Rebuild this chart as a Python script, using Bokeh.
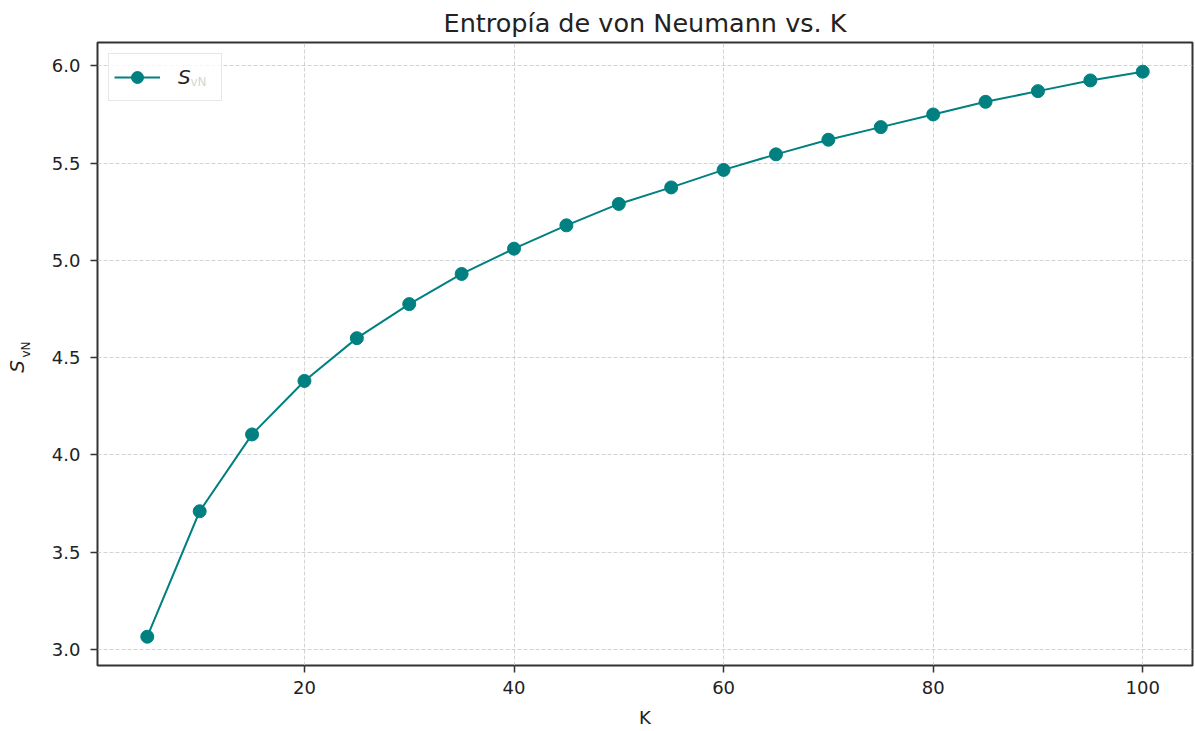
import math
from bokeh.plotting import figure
from bokeh.models import (Range1d, FixedTicker, NumeralTickFormatter, Legend,
                          LegendItem, Label)
from bokeh.embed import file_html
from bokeh.resources import INLINE

K = [5, 10, 15, 20, 25, 30, 35, 40, 45, 50, 55, 60, 65, 70, 75, 80, 85, 90, 95, 100]
S_vN = [3.065, 3.71, 4.105, 4.38, 4.60, 4.775, 4.93, 5.06, 5.18, 5.29,
        5.375, 5.465, 5.545, 5.62, 5.685, 5.75, 5.815, 5.87, 5.925, 5.97]
x_ticks = [20, 40, 60, 80, 100]
y_ticks = [3.0, 3.5, 4.0, 4.5, 5.0, 5.5, 6.0]

FONT = "DejaVu Sans"
TEAL = "#008080"

p = figure(width=1195, height=731, output_backend="svg", toolbar_location=None,
           x_range=Range1d(0.25, 104.75), y_range=Range1d(2.917, 6.12),
           min_border_left=97, min_border_right=3, min_border_top=42,
           min_border_bottom=66)

p.title.text = "Entropía de von Neumann vs. K"
p.title.align = "center"
p.title.text_font = FONT
p.title.text_font_size = "25.5px"
p.title.text_font_style = "normal"
p.title.text_color = "#222222"
p.title.standoff = 9

p.outline_line_color = "#333333"
p.outline_line_width = 2
p.outline_line_alpha = 1

for ax in (p.xaxis[0], p.yaxis[0]):
    ax.axis_line_color = None
    ax.major_tick_line_color = "#333333"
    ax.major_tick_line_width = 1.5
    ax.major_tick_out = 7
    ax.major_tick_in = 0
    ax.minor_tick_line_color = None
    ax.major_label_text_font = FONT
    ax.major_label_text_font_size = "18px"
    ax.major_label_text_color = "#222222"
    ax.axis_label_text_font = FONT
    ax.axis_label_text_font_style = "normal"
    ax.axis_label_text_font_size = "18px"
    ax.axis_label_text_color = "#222222"

p.xaxis.ticker = FixedTicker(ticks=x_ticks)
p.yaxis.ticker = FixedTicker(ticks=y_ticks)
p.yaxis.formatter = NumeralTickFormatter(format="0.0")
p.xaxis.axis_label = "K"
p.xaxis.axis_label_standoff = 10
p.xaxis.major_label_standoff = 8
p.yaxis.major_label_standoff = 10

p.grid.grid_line_color = "#c8c8c8"
p.grid.grid_line_dash = "4 2"
p.grid.grid_line_width = 1
p.grid.grid_line_alpha = 0.8

line = p.line(K, S_vN, line_color=TEAL, line_width=2)
pts = p.scatter(K, S_vN, size=13, fill_color=TEAL, line_color=TEAL)

legend = Legend(items=[LegendItem(label="S", renderers=[line, pts])],
                location="top_left", margin=11, padding=5,
                glyph_width=46, glyph_height=30, label_standoff=18,
                label_width=38, label_height=36,
                label_text_font=FONT, label_text_font_style="italic",
                label_text_font_size="20px", label_text_color="#222222",
                border_line_color="#d0d0d0", border_line_width=1,
                background_fill_alpha=0.8)
p.add_layout(legend, "center")

sub_leg = Label(x=93, y=584, x_units="screen", y_units="screen", text="vN",
                text_font=FONT, text_font_size="12px", text_color="#222222",
                text_align="left", text_baseline="middle", level="overlay")
p.add_layout(sub_leg)

ylab_S = Label(x=-8, y=299, x_units="screen", y_units="screen", text="S",
               angle=math.pi / 2, text_font=FONT, text_font_style="italic",
               text_font_size="20px", text_color="#222222",
               text_align="center", text_baseline="middle")
p.add_layout(ylab_S, "left")
ylab_sub = Label(x=15, y=316, x_units="screen", y_units="screen", text="vN",
                 angle=math.pi / 2, text_font=FONT, text_font_size="12px",
                 text_color="#222222", text_align="center", text_baseline="middle")
p.add_layout(ylab_sub, "left")

open("out.html", "w").write(file_html(p, INLINE))
